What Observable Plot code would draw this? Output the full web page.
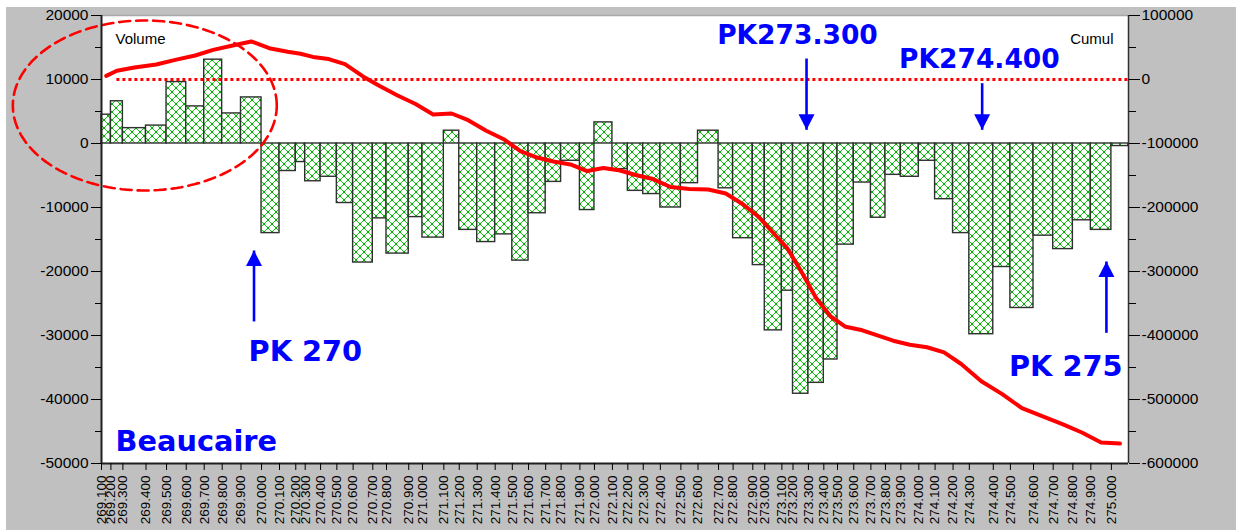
<!DOCTYPE html>
<html><head><meta charset="utf-8">
<script src="https://cdn.jsdelivr.net/npm/d3@7"></script>
<script src="https://cdn.jsdelivr.net/npm/@observablehq/plot@0.6"></script>
<style>
html,body{margin:0;padding:0;background:#fff;overflow:hidden;width:1236px;height:530px}
#bg{position:absolute;left:6px;top:7px;width:1230px;height:523px;background:#c0c0c0}
#chart{position:absolute;left:0;top:0}
</style></head><body>
<div id="bg"></div>
<svg width="0" height="0" style="position:absolute">
  <defs>
    <pattern id="hatch" patternUnits="userSpaceOnUse" width="8" height="8">
      <rect width="8" height="8" fill="#ffffff"/>
      <path d="M0,0L8,8M8,0L0,8" stroke="#22c022" stroke-width="1"/>
      <circle cx="4" cy="4" r="1.2" fill="#00b000"/>
      <circle cx="0" cy="0" r="1.2" fill="#00b000"/>
      <circle cx="8" cy="0" r="1.2" fill="#00b000"/>
      <circle cx="0" cy="8" r="1.2" fill="#00b000"/>
      <circle cx="8" cy="8" r="1.2" fill="#00b000"/>
    </pattern>
  </defs>
</svg>
<div id="chart"></div>
<script>
// Station PK labels (tick labels)
const stationLabels = [
  "269.100","269.200","269.300","269.400","269.500","269.600","269.700","269.800","269.900",
  "270.000","270.100","270.200","270.300","270.400","270.500","270.600","270.700","270.800","270.900",
  "271.000","271.100","271.200","271.300","271.400","271.500","271.600","271.700","271.800","271.900",
  "272.000","272.100","272.200","272.300","272.400","272.500","272.600","272.700","272.800","272.900",
  "273.000","273.100","273.200","273.300","273.400","273.500","273.600","273.700","273.800","273.900",
  "274.000","274.100","274.200","274.300","274.400","274.500","274.600","274.700","274.800","274.900",
  "275.000"
];
// Distance along the reach of each station (m) (61 edges)
const stationDist = [
  0, 55, 125, 260, 380, 495, 600, 705, 815, 935,
  1040, 1135, 1190, 1280, 1375, 1470, 1585, 1665, 1795, 1875,
  2000, 2090, 2195, 2300, 2400, 2495, 2595, 2685, 2795, 2880,
  2985, 3075, 3165, 3265, 3385, 3485, 3605, 3690, 3805, 3875,
  3975, 4040, 4130, 4220, 4300, 4395, 4495, 4580, 4670, 4775,
  4870, 4975, 5070, 5210, 5310, 5445, 5560, 5675, 5780, 5900,
  6000
];
// Volume per interval (left axis)
const volume = [
  4500, 6600, 2400, 2800, 9600, 5800, 13100, 4700, 7200,
  -14000, -4300, -2900, -5900, -5200, -9300, -18600, -11700, -17200, -11500, -14700,
  2000, -13500, -15400, -14200, -18300, -10900, -6000, -2700, -10400, 3300,
  -4000, -7400, -7900, -10000, -6200, 2000, -7000, -14800, -19000, -29200,
  -23000, -39100, -37400, -33750, -15800, -6100, -11600, -4900, -5200, -2700,
  -8700, -14000, -29800, -19300, -25700, -14400, -16500, -12000, -13500, -400
];
// Cumulative volume at each interval (right axis)
const cumul = [
  5600, 13700, 18700, 23400, 31100, 37500, 46300, 52700, 59400,
  48400, 43300, 40300, 35300, 31900, 23900, 4800, -10300, -25000, -38300, -54700,
  -53100, -63600, -80000, -93300, -111900, -121900, -128100, -132700, -143100, -138400,
  -142200, -149200, -155000, -168000, -171000, -171900, -178100, -195000, -214800, -239800,
  -264000, -298300, -341300, -370300, -386400, -391900, -400300, -408100, -414500, -418300,
  -426400, -444500, -471400, -491200, -513600, -526900, -539000, -551600, -567200, -568800
];
const volTicks = [20000, 10000, 0, -10000, -20000, -30000, -40000, -50000];
const volMinor = [15000, 5000, -5000, -15000, -25000, -35000, -45000];
const cumulTicks = [100000, 0, -100000, -200000, -300000, -400000, -500000, -600000];

// Annotations (x in m along reach, y in volume units)
const annotations = [
  {text: "PK273.300", x: 4066, y: 16950, anchor: "middle", size: 26.5},
  {text: "PK274.400", x: 5129, y: 13125, anchor: "middle", size: 26.5},
  {text: "PK 270", x: 859, y: -32470, anchor: "start", size: 28.8},
  {text: "PK 275", x: 5965, y: -34810, anchor: "end", size: 28.8},
  {text: "Beaucaire", x: 82, y: -46530, anchor: "start", size: 28.8}
];
const arrowsDown = [
  {x: 4119, tail: 13280, tip: 2140},
  {x: 5145, tail: 9420, tip: 2140}
];
const arrowsUp = [
  {x: 891, tail: -27810, tip: -16720},
  {x: 5871, tail: -29580, tip: -18440}
];
// Highlight ellipse around the positive volumes
const ellipse = {cx: 253, cy: 5940, rx: 771, ry: 13280};

// map cumul axis onto the volume axis (dual axis)
const cumToVol = d3.scaleLinear().domain([cumulTicks[0], cumulTicks[cumulTicks.length - 1]])
  .range([volTicks[0], volTicks[volTicks.length - 1]]);
const volToCum = cumToVol.copy().domain(cumToVol.range()).range(cumToVol.domain());

const bars = volume.map((v, i) => ({x1: stationDist[i], x2: stationDist[i + 1], v}));
const cumLine = cumul.map((c, i) => ({x: (stationDist[i] + stationDist[i + 1]) / 2, y: cumToVol(c)}));
const labelOf = new Map(stationDist.slice(0, stationLabels.length).map((d, i) => [d, stationLabels[i]]));
const ellPts = d3.range(0, 361, 2).map(a => ({
  x: ellipse.cx + ellipse.rx * Math.cos(a * Math.PI / 180),
  y: ellipse.cy + ellipse.ry * Math.sin(a * Math.PI / 180)
}));

const headDown = {draw(ctx) { ctx.moveTo(0, 0); ctx.lineTo(-8, -15.5); ctx.lineTo(8, -15.5); ctx.closePath(); }};
const headUp = {draw(ctx) { ctx.moveTo(0, 0); ctx.lineTo(-8, 15.5); ctx.lineTo(8, 15.5); ctx.closePath(); }};
const BLUE = "#0000ff";
const annText = (anchor) => Plot.text(annotations.filter(d => d.anchor === anchor), {
  x: "x", y: "y", text: "text", textAnchor: anchor, fontSize: d => d.size,
  fill: BLUE, fontWeight: "bold", fontFamily: "'DejaVu Sans', Verdana, sans-serif"
});

const chart = Plot.plot({
  width: 1236, height: 530,
  marginLeft: 101, marginRight: 108, marginTop: 15, marginBottom: 67,
  style: {background: "transparent", fontFamily: "'Liberation Sans', Arial, sans-serif", overflow: "visible", color: "#000"},
  x: {domain: [stationDist[0], stationDist[stationDist.length - 1]], label: null},
  y: {domain: [volTicks[volTicks.length - 1], volTicks[0]], label: null},
  marks: [
    Plot.frame({fill: "white", stroke: "none"}),
    Plot.rect(bars, {x1: "x1", x2: "x2", y1: () => 0, y2: "v", fill: "url(#hatch)", stroke: "#303030", strokeWidth: 1.4}),
    Plot.ruleY([cumToVol(0)], {x1: (stationDist[1] + stationDist[2]) / 2, x2: stationDist[stationDist.length - 1], stroke: "#ff0000", strokeWidth: 3, strokeDasharray: "3,3"}),
    Plot.line(cumLine, {x: "x", y: "y", stroke: "#ff0000", strokeWidth: 4, strokeLinejoin: "round"}),
    Plot.line(ellPts, {x: "x", y: "y", stroke: "#ff0000", strokeWidth: 2.6, strokeDasharray: "11,6"}),
    // frame lines
    Plot.ruleY([volTicks[0]], {stroke: "#a8a8a8", strokeWidth: 1.5}),
    Plot.ruleX([stationDist[0]], {stroke: "#202020", strokeWidth: 2}),
    Plot.ruleX([stationDist[stationDist.length - 1]], {stroke: "#303030", strokeWidth: 1.5}),
    Plot.ruleY([volTicks[volTicks.length - 1]], {stroke: "#202020", strokeWidth: 2}),
    // arrows
    Plot.link(arrowsDown, {x1: "x", x2: "x", y1: "tail", y2: "tip", stroke: BLUE, strokeWidth: 2.6}),
    Plot.link(arrowsUp, {x1: "x", x2: "x", y1: "tail", y2: "tip", stroke: BLUE, strokeWidth: 2.6}),
    Plot.dot(arrowsDown, {x: "x", y: "tip", symbol: headDown, fill: BLUE, stroke: "none", r: 5}),
    Plot.dot(arrowsUp, {x: "x", y: "tip", symbol: headUp, fill: BLUE, stroke: "none", r: 5}),
    // annotation texts
    annText("middle"), annText("start"), annText("end"),
    Plot.text(["Volume"], {frameAnchor: "top-left", dx: 14, dy: 24, lineAnchor: "middle", textAnchor: "start", fontSize: 15, fill: "#000"}),
    Plot.text(["Cumul"], {frameAnchor: "top-right", dx: -15, dy: 24, lineAnchor: "middle", textAnchor: "end", fontSize: 15, fill: "#000"}),
    // axes
    Plot.axisY({ticks: volTicks, anchor: "left", tickSize: 10, tickPadding: 3, tickFormat: d => String(d), fontSize: 15.5, label: null}),
    Plot.axisY({ticks: volMinor, anchor: "left", tickSize: 6, tickFormat: () => "", label: null}),
    Plot.axisY({ticks: volTicks, anchor: "right", tickSize: 11, tickPadding: 2, tickFormat: v => String(Math.round(volToCum(v))), fontSize: 15.5, label: null}),
    Plot.axisY({ticks: volMinor, anchor: "right", tickSize: 7, tickFormat: () => "", label: null}),
    Plot.axisX({ticks: stationDist.slice(0, stationLabels.length), tickFormat: d => labelOf.get(d), tickRotate: -90, tickSize: 7, tickPadding: 5, fontSize: 13.5, label: null})
  ]
});
document.getElementById("chart").appendChild(chart);
</script>
</body></html>
